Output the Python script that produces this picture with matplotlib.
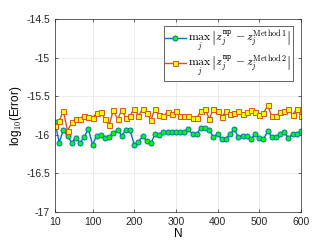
import numpy as np
import matplotlib
matplotlib.use("Agg")
import matplotlib.pyplot as plt

# N values (every 10 from 10 to 600)
N = list(range(10, 601, 10))

err_method1 = [
    -15.84, -16.10, -15.94, -16.02, -16.10, -16.04, -16.10, -16.03, -15.92, -16.13,
    -16.01, -16.00, -16.04, -16.03, -15.98, -15.94, -16.01, -15.94, -15.94, -16.13,
    -16.09, -16.02, -16.08, -16.11, -15.99, -16.00, -15.97, -15.97, -15.96, -15.96,
    -15.96, -15.96, -15.93, -15.99, -15.99, -15.91, -15.91, -15.94, -16.03, -15.99,
    -16.06, -16.05, -15.99, -15.93, -16.03, -16.01, -16.01, -16.06, -15.99, -16.04,
    -16.06, -15.95, -16.03, -16.03, -15.99, -15.97, -16.04, -15.99, -15.99, -15.95,
]

err_method2 = [
    -15.88, -15.82, -15.69, -15.95, -15.84, -15.79, -15.79, -15.75, -15.77, -15.78,
    -15.72, -15.70, -15.80, -15.87, -15.68, -15.80, -15.68, -15.78, -15.75, -15.66,
    -15.75, -15.67, -15.72, -15.81, -15.66, -15.74, -15.76, -15.70, -15.73, -15.69,
    -15.75, -15.75, -15.75, -15.78, -15.78, -15.69, -15.67, -15.79, -15.67, -15.69,
    -15.77, -15.69, -15.73, -15.72, -15.69, -15.73, -15.71, -15.68, -15.70, -15.74,
    -15.72, -15.62, -15.76, -15.75, -15.71, -15.69, -15.67, -15.74, -15.66, -15.75,
]

x_ticks = [10, 100, 200, 300, 400, 500, 600]
y_ticks = [-17, -16.5, -16, -15.5, -15, -14.5]
y_tick_labels = ["-17", "-16.5", "-16", "-15.5", "-15", "-14.5"]

plt.rcParams["font.family"] = ["Liberation Sans", "DejaVu Sans"]
plt.rcParams["mathtext.fontset"] = "cm"

fig = plt.figure(figsize=(3.33, 2.49), dpi=100)
ax = fig.add_axes([55 / 333, 1 - 212 / 249, (301 - 55) / 333, (212 - 19) / 249])

ax.plot(N, err_method1, "-o", color="#0072BD", lw=1.0, ms=3.6,
        mfc="#00FF00", mec="#0072BD", mew=0.7,
        label=r"$\max_j\,\left|z_j^{\mathtt{mp}}-z_j^{\mathrm{Method\,1}}\right|$")
ax.plot(N, err_method2, "-s", color="#D95319", lw=1.0, ms=3.6,
        mfc="#FFFF00", mec="#D95319", mew=0.7,
        label=r"$\max_j\,\left|z_j^{\mathtt{mp}}-z_j^{\mathrm{Method\,2}}\right|$")

ax.set_xlim(10, 600)
ax.set_ylim(-17, -14.5)
ax.set_xticks(x_ticks)
ax.set_yticks(y_ticks)
ax.set_yticklabels(y_tick_labels)
ax.tick_params(labelsize=7.5, length=2, width=0.5, direction="in",
               top=True, right=True, colors="#262626")
ax.grid(True, color="#e6e6e6", lw=0.5)
for s in ax.spines.values():
    s.set_color("#262626")
    s.set_linewidth(0.5)

ax.set_xlabel("N", fontsize=8.5, labelpad=1)
ax.set_ylabel(r"log$_{10}$(Error)", fontsize=8.5, labelpad=2)

leg = ax.legend(loc="upper right", fontsize=8.5, handlelength=1.7,
                borderpad=0.15, labelspacing=0.0, handletextpad=0.2,
                borderaxespad=0.3, fancybox=False, framealpha=1,
                edgecolor="#262626", bbox_to_anchor=(0.98, 0.98))
leg.get_frame().set_linewidth(0.5)

fig.savefig("out.png", dpi=100)
